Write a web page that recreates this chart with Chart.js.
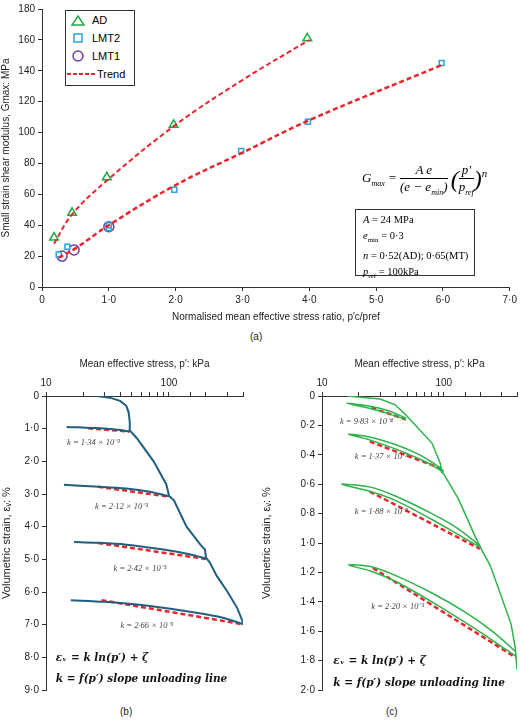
<!DOCTYPE html>
<html><head><meta charset="utf-8">
<script src="https://cdn.jsdelivr.net/npm/chart.js@4"></script>
<style>
body{margin:0;background:#fff;width:520px;height:720px;position:relative;font-family:"Liberation Sans",Arial,sans-serif;overflow:hidden}
canvas{position:absolute}
.lbl{position:absolute;font-size:10px;color:#222}
#legend{position:absolute;left:65px;top:10px;width:68px;height:74px;border:1px solid #333;font-size:11px;background:#fff}
#legend div{height:18px;line-height:18px;display:flex;align-items:center}
#legend svg{margin:0 6px 0 4px}
#formula{position:absolute;left:362px;top:162px;font-family:"Liberation Serif",serif;font-style:italic;font-size:13px}
#params{position:absolute;left:355px;top:209px;width:120px;height:67px;border:1px solid #333;font-family:"Liberation Serif",serif;font-size:10.5px;line-height:15.5px;padding:2px 0 0 7px;box-sizing:border-box}
</style></head><body>
<canvas id="ca" width="520" height="325" style="left:0;top:0;width:520px;height:325px"></canvas>
<canvas id="cb" width="260" height="350" style="left:0;top:350px;width:260px;height:350px"></canvas>
<canvas id="cc" width="260" height="350" style="left:260px;top:350px;width:260px;height:350px"></canvas>
<div id="legend">
 <div><svg width="16" height="12"><polygon points="8,2 14,11 2,11" fill="none" stroke="#22aa44" stroke-width="1.5"/></svg>AD</div>
 <div><svg width="16" height="12"><rect x="4" y="2" width="8" height="8" fill="none" stroke="#29a3e0" stroke-width="1.5"/></svg>LMT2</div>
 <div><svg width="16" height="12"><circle cx="8" cy="6" r="5" fill="none" stroke="#7040a0" stroke-width="1.5"/></svg>LMT1</div>
 <div><svg width="30" height="12" style="margin:0 0 0 1px"><line x1="0" y1="6" x2="30" y2="6" stroke="#e8262b" stroke-width="2" stroke-dasharray="4,2"/></svg>Trend</div>
</div>
<div id="formula">G<sub style="font-size:8px">max</sub> =
 <span style="display:inline-block;vertical-align:middle;text-align:center"><span style="display:block;border-bottom:1px solid #000;padding:0 4px">A e</span><span style="display:block">(e − e<sub style="font-size:8px">min</sub>)</span></span>
 <span style="font-size:24px;vertical-align:middle">(</span><span style="display:inline-block;vertical-align:middle;text-align:center"><span style="display:block;border-bottom:1px solid #000">p′</span><span style="display:block">p<sub style="font-size:8px">ref</sub></span></span><span style="font-size:24px;vertical-align:middle">)</span><sup>n</sup>
</div>
<div id="params"><i>A</i> = 24 MPa<br><i>e</i><sub style="font-size:7px">min</sub> = 0·3<br><i>n</i> = 0·52(AD); 0·65(MT)<br><i>p</i><sub style="font-size:7px">ref</sub> = 100kPa</div>
<div class="lbl" style="left:250px;top:331px">(a)</div>
<div class="lbl" style="left:120px;top:706px">(b)</div>
<div class="lbl" style="left:386px;top:706px">(c)</div>
<script>
// (a) Gmax vs normalised stress
const adX = [0.18, 0.45, 0.97, 1.97, 3.97];
const adY = [32, 48, 71, 105, 161];
const lmt2X = [0.25, 0.38, 1.0, 1.0, 1.98, 2.98, 3.98, 5.98];
const lmt2Y = [21, 26, 38, 40, 63, 88, 107, 145];
const lmt1X = [0.3, 0.48, 1.0];
const lmt1Y = [20, 24, 39];
const trendAdX = [0.18, 0.45, 1.0, 2.0, 3.0, 4.0];
const trendAdY = [28, 47, 70, 105, 134, 160];
const trendMtX = [0.25, 0.5, 1.0, 2.0, 3.0, 4.0, 6.0];
const trendMtY = [19, 25, 40, 66, 87, 108, 144];

// (b) AD test: loading curve and unloading lines [p kPa, strain %]
const bLoad = [[26,0],[33,0.05],[40,0.15],[45,0.3],[47,0.5],[48,0.8],[48,1.05],[55,1.3],[75,2.0],[95,2.7],[98,2.9],[100,3.05],[110,3.2],[139,4.0],[180,4.55],[196,4.7],[200,4.95],[215,5.1],[244,5.5],[300,6.0],[360,6.5],[397,6.9],[400,7.0]];
const bUnload = [
  [[48,1.08],[35,1.02],[25,0.98],[18,0.96],[14.7,0.95]],
  [[100,3.07],[70,2.93],[45,2.83],[25,2.77],[14,2.72]],
  [[200,4.98],[150,4.85],[90,4.7],[45,4.55],[25,4.49],[16.9,4.47]],
  [[400,6.98],[250,6.75],[120,6.55],[60,6.4],[30,6.3],[15.9,6.25]]
];
const bTrend = [
  [[22,0.99],[48,1.09]],
  [[26.6,2.78],[100,3.08]],
  [[26.6,4.5],[200,4.99]],
  [[28.3,6.25],[400,6.99]]
];
const bK = ['1·34 × 10⁻³', '2·12 × 10⁻³', '2·42 × 10⁻³', '2·66 × 10⁻³'];
const bKpos = [[24.3,1.5],[41,3.45],[58,5.35],[66,7.1]];

// (c) LMT test
const cLoad = [[16.1,0],[30,0.02],[40,0.06],[49,0.13],[65,0.24],[80,0.32],[94,0.46],[96,0.52],[100,0.53],[132,0.7],[180,0.95],[198,1.02],[200,1.03],[240,1.15],[279,1.3],[357,1.55],[385,1.7],[392,1.77],[400,1.86]];
const cLoops = [
  [[49,0.15],[35,0.1],[25,0.07],[16,0.05],[25,0.085],[35,0.12],[49,0.16]],
  [[100,0.51],[80,0.45],[60,0.39],[40,0.33],[25,0.28],[16.5,0.26],[25,0.3],[40,0.36],[60,0.42],[80,0.47],[100,0.52]],
  [[200,1.02],[130,0.9],[80,0.8],[40,0.68],[25,0.62],[14.5,0.6],[25,0.65],[40,0.71],[80,0.84],[130,0.94],[200,1.03]],
  [[392,1.74],[250,1.6],[150,1.47],[80,1.34],[40,1.22],[25,1.16],[16.5,1.15],[25,1.19],[40,1.26],[80,1.4],[150,1.54],[250,1.66],[392,1.77]]
];
const cTrend = [
  [[25.4,0.08],[49,0.16]],
  [[24.7,0.31],[100,0.5]],
  [[24.7,0.65],[198,1.04]],
  [[26.2,1.17],[392,1.78]]
];
const cK = ['9·83 × 10⁻⁴', '1·37 × 10⁻³', '1·88 × 10⁻³', '2·20 × 10⁻³'];
const cKpos = [[23.2,0.19],[30.6,0.43],[30.6,0.8],[41.8,1.45]];

const red = '#e8262b';
const dot = v => String(v).replace('.', '·');
const pts = (xs, ys) => xs.map((x, i) => ({x, y: ys[i]}));
const pp = arr => arr.map(a => ({x: a[0], y: a[1]}));
Chart.defaults.font.family = '"Liberation Sans", Arial, sans-serif';
Chart.defaults.color = '#222';
Chart.defaults.animation = false;

new Chart(document.getElementById('ca'), {
  type: 'scatter',
  data: {datasets: [
    {data: pts(trendAdX, trendAdY), showLine: true, borderColor: red, borderWidth: 2, borderDash: [5,3], pointRadius: 0, tension: 0.4},
    {data: pts(trendMtX, trendMtY), showLine: true, borderColor: red, borderWidth: 2.5, borderDash: [5,3], pointRadius: 0, tension: 0.4},
    {data: pts(adX, adY), pointStyle: 'triangle', pointRadius: 5, borderColor: '#22aa44', borderWidth: 1.5, backgroundColor: 'rgba(0,0,0,0)'},
    {data: pts(lmt2X, lmt2Y), pointStyle: 'rect', pointRadius: 3.5, borderColor: '#29a3e0', borderWidth: 1.5, backgroundColor: '#fff'},
    {data: pts(lmt1X, lmt1Y), pointStyle: 'circle', pointRadius: 5, borderColor: '#7040a0', borderWidth: 1.5, backgroundColor: 'rgba(0,0,0,0)'}
  ]},
  options: {
    responsive: false, layout: {padding: {top: 6, right: 8}},
    plugins: {legend: {display: false}, tooltip: {enabled: false}},
    scales: {
      x: {min: 0, max: 7, grid: {drawOnChartArea: false, tickLength: 4, color: '#333'}, border: {color: '#333'},
          ticks: {stepSize: 1, font: {size: 10}, callback: v => v === 0 ? '0' : dot(v.toFixed(1))},
          title: {display: true, text: "Normalised mean effective stress ratio, p′c/pref", font: {size: 10}, padding: 2}},
      y: {min: 0, max: 180, grid: {drawOnChartArea: false, tickLength: 4, color: '#333'}, border: {color: '#333'},
          ticks: {stepSize: 20, font: {size: 10}},
          title: {display: true, text: 'Small strain shear modulus, Gmax: MPa', font: {size: 10}, padding: 0},
          afterFit: s => { s.width = 42; }}
    }
  }
});

const annot = {
  id: 'annot',
  afterDraw(chart, args, o) {
    const c = chart.ctx, x = chart.scales.x, y = chart.scales.y;
    c.save();
    c.fillStyle = '#444'; c.font = 'italic 8.5px "Liberation Serif", serif'; c.textAlign = 'center';
    o.k.forEach((t, i) => c.fillText('k = ' + t, x.getPixelForValue(o.kpos[i][0]), y.getPixelForValue(o.kpos[i][1])));
    c.fillStyle = '#111'; c.textAlign = 'left'; c.font = 'bold italic 10.5px "DejaVu Serif", serif';
    c.fillText('εᵥ = k ln(p′) + ζ', x.getPixelForValue(o.eq[0]), y.getPixelForValue(o.eq[1]));
    c.fillText('k = f(p′) slope unloading line', x.getPixelForValue(o.eq[0]), y.getPixelForValue(o.eq[2]));
    c.restore();
  }
};

function strainChart(id, load, loops, trends, col, lw, ymax, step, label, k, kpos, eq, yw, padR) {
  const ds = [{data: pp(load), borderColor: col, borderWidth: lw}];
  loops.forEach(l => ds.push({data: pp(l), borderColor: col, borderWidth: lw, tension: 0.3}));
  trends.forEach(t => ds.push({data: pp(t), borderColor: red, borderWidth: 2.5, borderDash: [5,3]}));
  ds.forEach(d => { d.showLine = true; d.pointRadius = 0; });
  new Chart(document.getElementById(id), {
    type: 'scatter', data: {datasets: ds}, plugins: [annot],
    options: {
      responsive: false, layout: {padding: {top: 8, right: padR, bottom: 10}},
      plugins: {legend: {display: false}, tooltip: {enabled: false}, annot: {k, kpos, eq}},
      scales: {
        x: {type: 'logarithmic', position: 'top', min: 10, max: 400,
            grid: {drawOnChartArea: false, tickLength: 4, color: '#333'}, border: {color: '#333'},
            ticks: {font: {size: 10}, autoSkip: false, maxRotation: 0, callback: v => (v === 10 || v === 100) ? String(v) : ''},
            title: {display: true, text: label, font: {size: 10}, padding: {top: 0, bottom: 2}},
            afterFit: s => { s.height = 38; }},
        y: {min: 0, max: ymax, reverse: true,
            grid: {drawOnChartArea: false, tickLength: 4, color: '#333'}, border: {color: '#333'},
            ticks: {stepSize: step, font: {size: 10}, callback: v => v === 0 ? '0' : dot(v.toFixed(1))},
            title: {display: true, text: 'Volumetric strain, εᵥ: %', font: {size: 11}, padding: 0},
            afterFit: s => { s.width = yw; }}
      }
    }
  });
}

strainChart('cb', bLoad, bUnload, bTrend, '#1f5f80', 2, 9, 1, "Mean effective stress, p′: kPa", bK, bKpos, [12, 8.1, 8.75], 46, 17);
strainChart('cc', cLoad, cLoops, cTrend, '#2db34a', 1.5, 2, 0.2, "Mean effective stress, p′: kPa", cK, cKpos, [12.4, 1.82, 1.97], 62, 2);
</script>
</body></html>
